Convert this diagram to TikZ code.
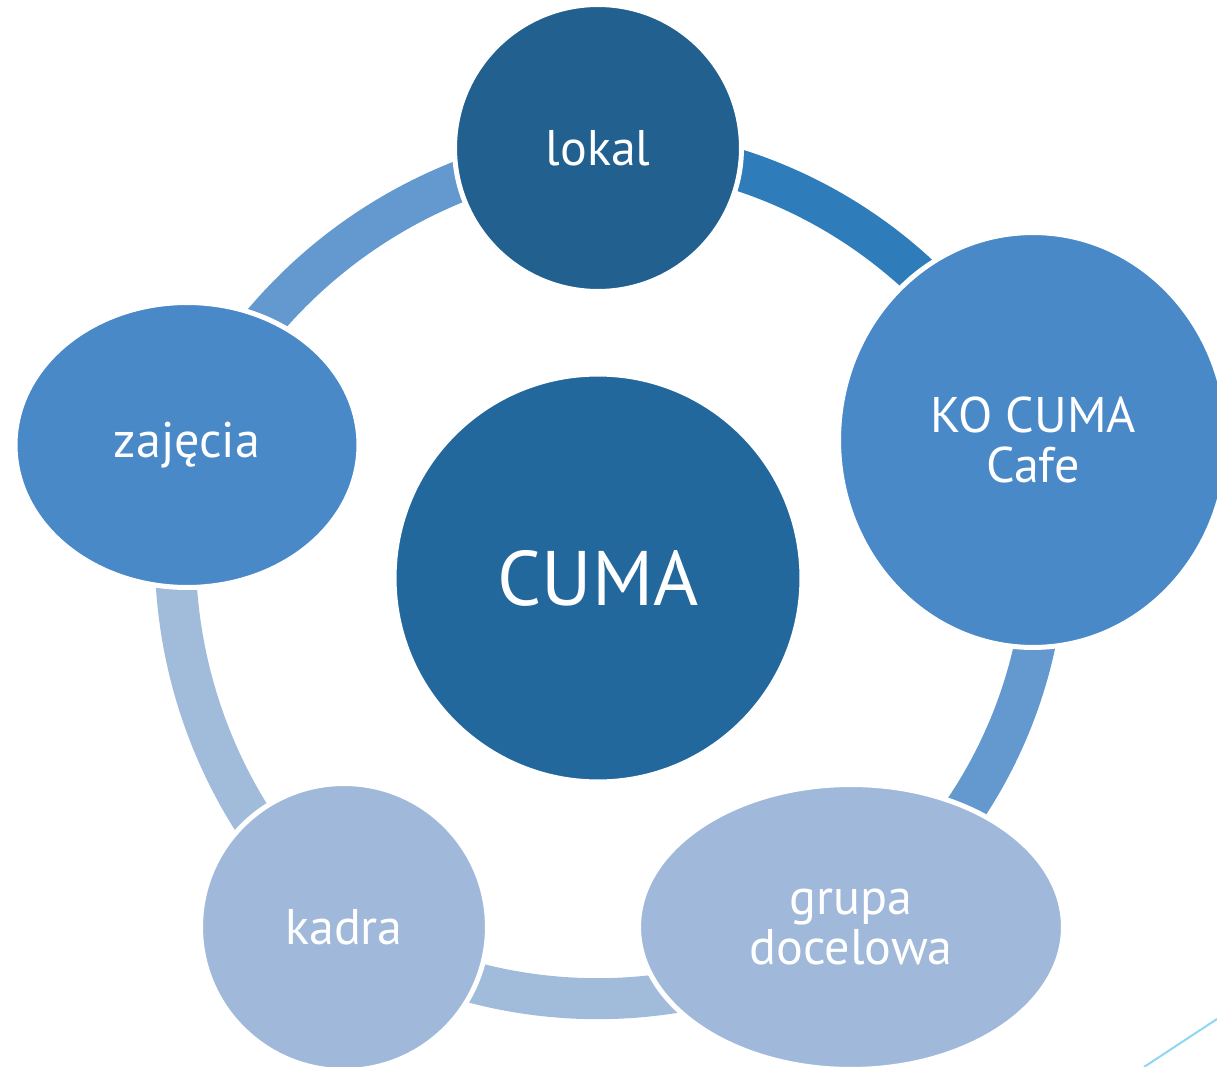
\documentclass[tikz,border=0pt]{standalone}
\usepackage{fontspec}
\setmainfont{PT Sans}
\usetikzlibrary{shapes.geometric,backgrounds}

\definecolor{lokalblue}{HTML}{21608F}
\definecolor{cumablue}{HTML}{23689C}
\definecolor{midblue}{HTML}{4A89C8}
\definecolor{paleblue}{HTML}{A0B9DB}
\definecolor{arcdark}{HTML}{2E7DBA}
\definecolor{arcmid}{HTML}{6399CE}
\definecolor{arcpale}{HTML}{A1BBDB}
\definecolor{linecyan}{HTML}{8FD6F0}

\begin{document}
\begin{tikzpicture}[x=0.02cm, y=0.02cm,
  blob/.style={draw=white, line width=0.1cm, text=white, inner sep=0pt, align=center,
    font=\fontsize{28.5}{28.5}\selectfont},
  ring/.style={line width=0.82cm, looseness=0.92}]
\useasboundingbox (0,0) rectangle (1217,-1067);

\node[blob, circle, fill=cumablue, minimum size=8.16cm, font=\fontsize{44}{44}\selectfont] (cuma) at (598,-578) {CUMA};
\node[blob, circle, fill=lokalblue, minimum size=5.74cm] (lokal) at (598,-148) {lokal};
\node[blob, ellipse, fill=midblue, minimum width=7.78cm, minimum height=8.3cm] (cafe) at (1033,-440) {KO CUMA\\Cafe};
\node[blob, ellipse, fill=paleblue, minimum width=8.5cm, minimum height=5.7cm] (grupa) at (851,-927) {grupa\\docelowa};
\node[blob, circle, fill=paleblue, minimum size=5.74cm] (kadra) at (344,-927) {kadra};
\node[blob, ellipse, fill=midblue, minimum width=6.88cm, minimum height=5.7cm] (zajecia) at (187,-445) {zajęcia};

% ring segments, behind the nodes
\begin{pgfonlayer}{background}
\draw[ring, arcdark] (lokal.center) to[bend left=34] (cafe.center);
\draw[ring, arcmid] (cafe.center) to[bend left=34] (grupa.center);
\draw[ring, arcpale] (grupa.center) to[bend left=31.7] (kadra.center);
\draw[ring, arcpale] (kadra.center) to[bend left=30.4] (zajecia.center);
\draw[ring, arcmid] (zajecia.center) to[bend left=30.4] (lokal.center);
\end{pgfonlayer}

\draw[linecyan, line width=0.04cm] (1144,-1067) -- (1217,-1019);
\end{tikzpicture}
\end{document}
